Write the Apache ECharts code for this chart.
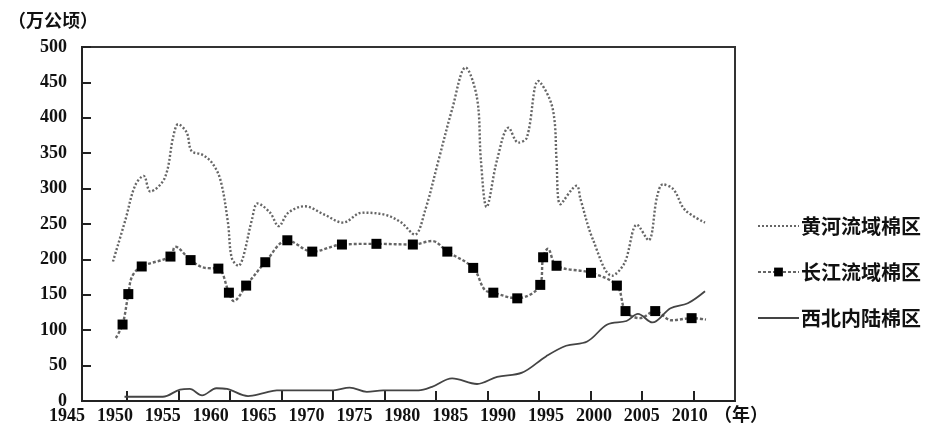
<!DOCTYPE html>
<html>
<head>
<meta charset="utf-8">
<script src="https://cdn.jsdelivr.net/npm/echarts@6/dist/echarts.min.js"></script>
<style>
html,body{margin:0;padding:0;background:#fff;}
#chart{width:928px;height:430px;}
</style>
</head>
<body>
<div id="chart"></div>
<script>
// ---- data (x = year, y = 万公顷) ----
const seriesNames = ['黄河流域棉区', '长江流域棉区', '西北内陆棉区'];
const xTickLabels = [1945,1950,1955,1960,1965,1970,1975,1980,1985,1990,1995,2000,2005,2010];
const yTickLabels = [0,50,100,150,200,250,300,350,400,450,500];

const yellowYears  = [1949.8,1951.1,1952.1,1953.0,1953.7,1955.2,1956.1,1956.6,1957.5,1958.0,1959.1,1960.1,1961.0,1961.8,1962.2,1962.9,1963.4,1964.3,1964.9,1966.2,1967.1,1968.1,1969.8,1971.9,1973.8,1975.8,1978.2,1979.9,1981.3,1982.4,1983.8,1985.2,1986.6,1987.8,1988.2,1988.8,1989.9,1991.1,1992.1,1993.0,1994.2,1995.4,1995.9,1996.1,1996.5,1998.2,1998.6,1999.9,2001.9,2003.2,2004.5,2005.7,2006.6,2007.2,2008.3,2009.5,2011.6];
const yellowValues = [197,256,304,318,296,315,374,391,379,353,348,337,313,252,202,191,204,256,279,266,247,266,275,263,252,266,263,252,235,270,341,412,471,428,341,274,341,386,365,372,452,426,395,340,278,304,285,228,177,195,249,227,289,306,299,270,252];

const yangtzeYears  = [1950.1,1950.8,1951.4,1951.8,1952.8,1955.8,1956.3,1957.9,1959.4,1960.8,1961.9,1962.4,1963.7,1965.7,1968.0,1970.6,1973.7,1977.3,1981.1,1983.1,1984.7,1987.4,1988.6,1989.5,1992.0,1994.4,1994.7,1995.2,1996.1,1999.7,2002.4,2003.3,2004.8,2006.4,2008.1,2010.2,2011.7];
const yangtzeValues = [89,108,151,176,190,204,218,199,188,187,153,141,163,196,227,211,221,222,221,226,211,188,157,153,145,164,203,215,191,181,163,127,117,127,114,117,115];
const yangtzeMarked = [0,1,1,0,1,1,0,1,0,1,1,0,1,1,1,1,1,1,1,0,1,1,0,1,1,1,1,0,1,1,1,1,0,1,0,1,0];

const nwYears  = [1951.0,1955.0,1956.8,1957.8,1959.1,1960.6,1961.7,1963.9,1965.5,1966.9,1972.8,1974.5,1976.3,1978.0,1981.7,1983.1,1985.2,1987.8,1989.9,1992.5,1995.0,1997.1,1999.3,2001.4,2003.4,2004.6,2006.1,2008.0,2009.8,2011.6];
const nwValues = [6,6,16,17,8,18,17,7,11,15,15,19,13,15,15,20,32,24,34,40,63,78,84,108,113,123,111,131,138,155];

// ---- layout ----
const PLOT_LEFT = 82, PLOT_RIGHT = 735, PLOT_TOP = 47, PLOT_BOTTOM = 401;
const LABEL_X0 = 67, PX_PER_YEAR = 9.58;       // where the 1945 label sits, spacing of labels
const pxToYear = px => 1945 + (px - LABEL_X0) / PX_PER_YEAR;
const tickYears = Array.from({length: 12}, (_, k) => pxToYear(127 + 51.5 * k));

const numFont = {fontFamily: 'Liberation Serif', fontWeight: 'bold', fontSize: 18, color: '#111'};
const cjkFont = 'Noto Sans CJK SC';

const chart = echarts.init(document.getElementById('chart'), null, {renderer: 'canvas'});
chart.setOption({
  animation: false,
  backgroundColor: '#fff',
  grid: [
    {left: PLOT_LEFT, right: 928 - PLOT_RIGHT, top: PLOT_TOP, bottom: 430 - PLOT_BOTTOM,
     show: true, borderColor: '#333', borderWidth: 2, backgroundColor: 'transparent'},
    {left: LABEL_X0, right: 928 - (LABEL_X0 + 65 * PX_PER_YEAR), top: PLOT_TOP, bottom: 430 - PLOT_BOTTOM}
  ],
  xAxis: [
    {type: 'value', gridIndex: 0, min: pxToYear(PLOT_LEFT), max: pxToYear(PLOT_RIGHT),
     axisLine: {lineStyle: {color: '#222', width: 2}},
     axisTick: {show: true, inside: true, length: 10, lineStyle: {color: '#222', width: 2}, customValues: tickYears},
     axisLabel: {show: false}, splitLine: {show: false}},
    {type: 'value', gridIndex: 1, min: xTickLabels[0], max: xTickLabels[xTickLabels.length - 1], interval: 5,
     axisLine: {show: false}, axisTick: {show: false}, splitLine: {show: false},
     axisLabel: Object.assign({show: true, margin: 6, showMinLabel: true, showMaxLabel: true,
       formatter: v => String(Math.round(v))}, numFont)}
  ],
  yAxis: [
    {type: 'value', gridIndex: 0, min: yTickLabels[0], max: yTickLabels[yTickLabels.length - 1], interval: 50,
     axisLine: {show: true, lineStyle: {color: '#222', width: 2}},
     axisTick: {show: true, inside: true, length: 9, lineStyle: {color: '#222', width: 2}},
     axisLabel: Object.assign({margin: 15}, numFont), splitLine: {show: false}},
    {type: 'value', gridIndex: 1, show: false, min: 0, max: 500}
  ],
  legend: {
    orient: 'vertical', left: 752, top: 211, itemWidth: 41, itemHeight: 11, itemGap: 26,
    textStyle: {fontFamily: cjkFont, fontWeight: 'bold', fontSize: 20, lineHeight: 20, color: '#111', padding: [0, 0, 0, -3]},
    data: [
      {name: seriesNames[0], itemStyle: {opacity: 0}},
      {name: seriesNames[1]},
      {name: seriesNames[2], itemStyle: {opacity: 0}}
    ]
  },
  graphic: [
    {type: 'text', left: 8, top: 11, style: {text: '（万公顷）', fontFamily: cjkFont, fontWeight: 'bold', fontSize: 18, fill: '#111'}},
    {type: 'text', left: 714, top: 405, style: {text: '（年）', fontFamily: cjkFont, fontWeight: 'bold', fontSize: 18, fill: '#111'}}
  ],
  series: [
    {name: seriesNames[0], type: 'line', xAxisIndex: 0, yAxisIndex: 0, smooth: 0.35, symbol: 'none',
     lineStyle: {color: '#666', width: 2.4, type: [2, 2]}, itemStyle: {color: '#666'},
     data: yellowYears.map((x, i) => [x, yellowValues[i]])},
    {name: seriesNames[1], type: 'line', xAxisIndex: 0, yAxisIndex: 0, smooth: 0.35, symbol: 'rect', symbolSize: 10,
     showAllSymbol: true, lineStyle: {color: '#666', width: 2.4, type: [3, 2]}, itemStyle: {color: '#000'},
     data: yangtzeYears.map((x, i) => ({value: [x, yangtzeValues[i]], symbol: yangtzeMarked[i] ? 'rect' : 'none'})), z: 3},
    {name: seriesNames[2], type: 'line', xAxisIndex: 0, yAxisIndex: 0, smooth: 0.35, symbol: 'none',
     lineStyle: {color: '#444', width: 1.8, type: 'solid'}, itemStyle: {color: '#444'},
     data: nwYears.map((x, i) => [x, nwValues[i]])}
  ]
});
</script>
</body>
</html>
